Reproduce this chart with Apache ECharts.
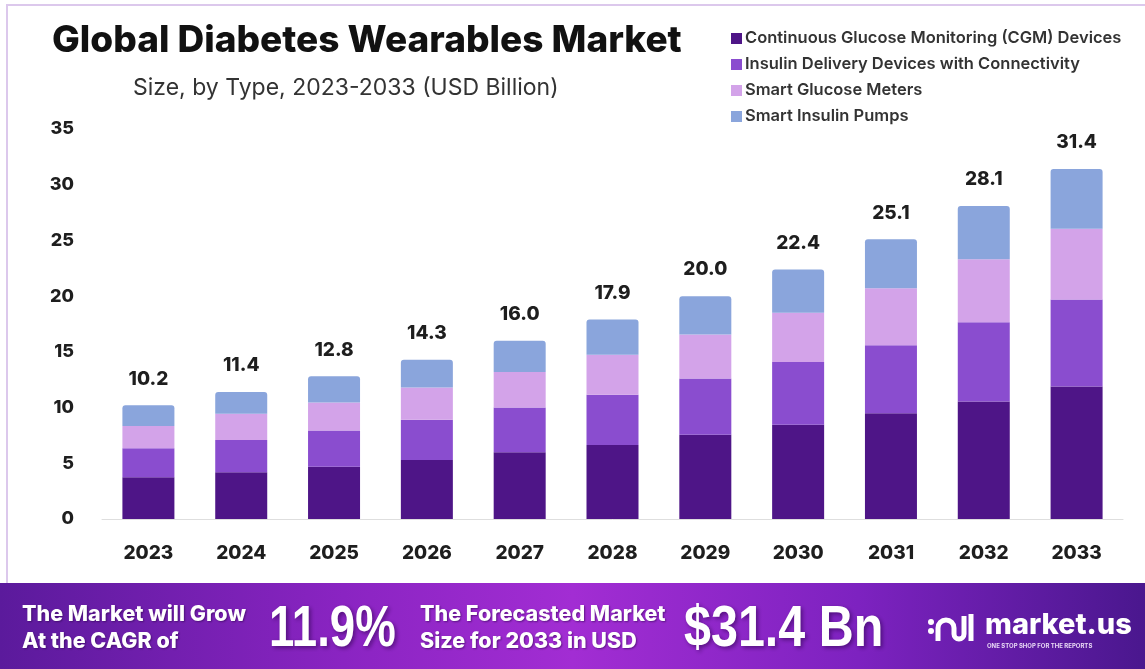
<!DOCTYPE html>
<html>
<head>
<meta charset="utf-8">
<title>Global Diabetes Wearables Market</title>
<script src="https://cdn.jsdelivr.net/npm/echarts@6/dist/echarts.min.js"></script>
<style>
  html, body { margin: 0; padding: 0; background: #ffffff; }
  #chart { width: 1145px; height: 669px; }
</style>
</head>
<body>
<div id="chart"></div>
<script>
// Market size by device type, USD billion
const years = ['2023', '2024', '2025', '2026', '2027', '2028', '2029', '2030', '2031', '2032', '2033'];
const cgmDevices      = [3.75, 4.20, 4.70, 5.30, 6.00, 6.65, 7.55, 8.45, 9.50, 10.55, 11.90];
const insulinDelivery = [2.60, 2.90, 3.25, 3.60, 4.00, 4.50, 5.05, 5.65, 6.10, 7.10, 7.80];
const glucoseMeters   = [2.00, 2.35, 2.50, 2.90, 3.20, 3.60, 3.95, 4.40, 5.10, 5.65, 6.35];
const insulinPumps    = [1.85, 1.95, 2.35, 2.50, 2.80, 3.15, 3.45, 3.90, 4.40, 4.80, 5.35];

const seriesNames = [
  'Continuous Glucose Monitoring (CGM) Devices',
  'Insulin Delivery Devices with Connectivity',
  'Smart Glucose Meters',
  'Smart Insulin Pumps'
];
const yTicks = { min: 0, max: 35, interval: 5 };
const cagrText = '11.9%';
const forecastText = '$31.4 Bn';

const colors = ['#4e1587', '#8a4dcf', '#d3a3e9', '#8aa5dc'];
const stacks = [cgmDevices, insulinDelivery, glucoseMeters, insulinPumps];
const totalAt = i => stacks.reduce((s, arr) => s + arr[i], 0);

const chart = echarts.init(document.getElementById('chart'), null, { renderer: 'canvas' });

const FONT = 'Inter, "Noto Sans", sans-serif';
const BIG = '"Liberation Sans", Arial, sans-serif';
const W = '#ffffff';
const Z = 12;

const series = stacks.map((data, k) => ({
  name: seriesNames[k],
  type: 'bar',
  stack: 'total',
  barWidth: 52,
  data: data,
  itemStyle: {
    color: colors[k],
    borderRadius: k === 3 ? [3, 3, 0, 0] : 0
  },
  label: k === 3 ? {
    show: true,
    position: 'top',
    distance: 17,
    fontFamily: FONT,
    fontWeight: 800,
    fontSize: 19,
    color: '#1e1e1e',
    formatter: p => totalAt(p.dataIndex).toFixed(1)
  } : { show: false },
  emphasis: { disabled: true }
}));

const shadow = { textShadowColor: 'rgba(40,0,70,0.55)', textShadowBlur: 4, textShadowOffsetX: 2, textShadowOffsetY: 2 };

const option = {
  animation: false,
  backgroundColor: '#ffffff',
  textStyle: { fontFamily: FONT },
  grid: { left: 102, right: 22, top: 129, bottom: 150 },
  legend: {
    orient: 'vertical',
    left: 726,
    top: 25,
    itemWidth: 11,
    itemHeight: 11,
    itemGap: 9,
    icon: 'rect',
    selectedMode: false,
    textStyle: { fontFamily: FONT, fontSize: 16.5, fontWeight: 600, color: '#333333', padding: [0, 0, 0, -2] },
    data: seriesNames
  },
  xAxis: {
    type: 'category',
    data: years,
    axisLine: { lineStyle: { color: '#dedede', width: 1 } },
    axisTick: { show: false },
    axisLabel: {
      margin: 25,
      fontFamily: FONT,
      fontWeight: 800,
      fontSize: 19,
      color: '#1e1e1e'
    }
  },
  yAxis: {
    type: 'value',
    min: yTicks.min,
    max: yTicks.max,
    interval: yTicks.interval,
    splitLine: { show: false },
    axisLine: { show: false },
    axisTick: { show: false },
    axisLabel: {
      margin: 28,
      fontFamily: FONT,
      fontWeight: 800,
      fontSize: 18,
      color: '#1e1e1e'
    }
  },
  graphic: [
    // card outline
    {
      type: 'rect', silent: true, z: -10,
      shape: { x: 7, y: 5, width: 1150, height: 590 },
      style: { fill: '#ffffff', stroke: '#dcc8ec', lineWidth: 2 }
    },
    // heading
    {
      type: 'text', x: 52, y: 41,
      style: { text: 'Global Diabetes Wearables Market', fontFamily: FONT, fontWeight: 800, fontSize: 37, fill: '#111111', verticalAlign: 'middle' }
    },
    {
      type: 'text', x: 133, y: 88,
      style: { text: 'Size, by Type, 2023-2033 (USD Billion)', fontFamily: FONT, fontWeight: 400, fontSize: 23, fill: '#333333', verticalAlign: 'middle' }
    },
    // bottom banner
    {
      type: 'rect', silent: true, z: 10,
      shape: { x: 0, y: 583, width: 1145, height: 86 },
      style: {
        fill: new echarts.graphic.LinearGradient(0, 0, 1, 0, [
          { offset: 0, color: '#5b1a9c' },
          { offset: 0.3, color: '#8a24c2' },
          { offset: 0.5, color: '#a22dd3' },
          { offset: 0.75, color: '#7d22c0' },
          { offset: 1, color: '#4a178e' }
        ])
      }
    },
    {
      type: 'text', z: Z, x: 22, y: 628,
      style: Object.assign({ text: 'The Market will Grow\nAt the CAGR of', fontFamily: FONT, fontWeight: 800, fontSize: 21.5, lineHeight: 27, fill: W, verticalAlign: 'middle' }, shadow, { textShadowBlur: 2, textShadowOffsetX: 1, textShadowOffsetY: 1 })
    },
    {
      type: 'text', z: Z, x: 269, y: 630, scaleX: 0.8,
      style: Object.assign({ text: cagrText, fontFamily: BIG, fontWeight: 700, fontSize: 57, fill: W, verticalAlign: 'middle' }, shadow)
    },
    {
      type: 'text', z: Z, x: 420, y: 628,
      style: Object.assign({ text: 'The Forecasted Market\nSize for 2033 in USD', fontFamily: FONT, fontWeight: 800, fontSize: 21.5, lineHeight: 27, fill: W, verticalAlign: 'middle' }, shadow, { textShadowBlur: 2, textShadowOffsetX: 1, textShadowOffsetY: 1 })
    },
    {
      type: 'text', z: Z, x: 684, y: 630, scaleX: 0.85,
      style: Object.assign({ text: forecastText, fontFamily: BIG, fontWeight: 700, fontSize: 57, fill: W, verticalAlign: 'middle' }, shadow)
    },
    // market.us logo mark
    { type: 'circle', z: Z, shape: { cx: 931, cy: 622, r: 3 }, style: { fill: W } },
    { type: 'circle', z: Z, shape: { cx: 931, cy: 631, r: 3 }, style: { fill: W } },
    { type: 'arc', z: Z, shape: { cx: 946, cy: 628, r: 8, startAngle: Math.PI, endAngle: 2 * Math.PI, clockwise: true }, style: { stroke: W, lineWidth: 5, fill: null } },
    { type: 'line', z: Z, shape: { x1: 938, y1: 628, x2: 938, y2: 641 }, style: { stroke: W, lineWidth: 5 } },
    { type: 'line', z: Z, shape: { x1: 954, y1: 628, x2: 954, y2: 634 }, style: { stroke: W, lineWidth: 5 } },
    { type: 'arc', z: Z, shape: { cx: 959, cy: 634, r: 5, startAngle: Math.PI, endAngle: 0, clockwise: false }, style: { stroke: W, lineWidth: 5, fill: null } },
    { type: 'line', z: Z, shape: { x1: 964, y1: 634, x2: 964, y2: 616 }, style: { stroke: W, lineWidth: 5 } },
    { type: 'line', z: Z, shape: { x1: 971, y1: 614, x2: 971, y2: 641 }, style: { stroke: W, lineWidth: 5 } },
    {
      type: 'text', z: Z, x: 985, y: 625,
      style: { text: 'market.us', fontFamily: FONT, fontWeight: 800, fontSize: 29, fill: W, verticalAlign: 'middle' }
    },
    {
      type: 'text', z: Z, x: 987, y: 646,
      style: { text: 'ONE STOP SHOP FOR THE REPORTS', fontFamily: FONT, fontWeight: 700, fontSize: 6, fill: '#e8d8f5', verticalAlign: 'middle' }
    }
  ],
  series: series
};

chart.setOption(option);
</script>
</body>
</html>
